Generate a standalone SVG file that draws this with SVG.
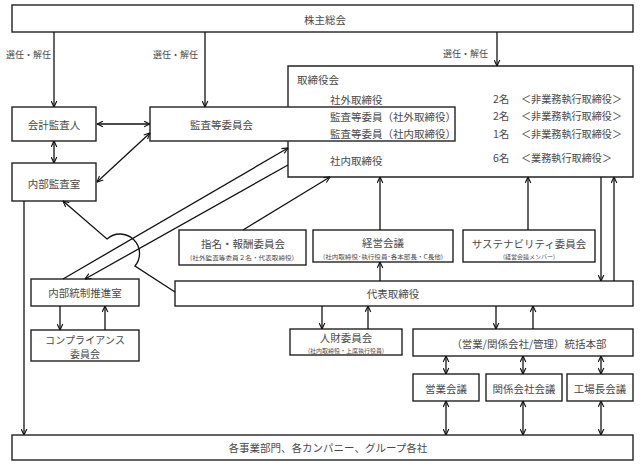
<svg xmlns="http://www.w3.org/2000/svg" width="641" height="465" viewBox="0 0 641 465">
<style>
.b{fill:none;stroke:#222;stroke-width:1.4}
.c{fill:none;stroke:#111;stroke-width:1.3}
.t{font-family:"Noto Sans CJK JP","Noto Sans",sans-serif;font-size:10.5px;fill:#4a4a4a;dominant-baseline:central}
.m{text-anchor:middle}
.s{font-family:"Noto Sans CJK JP","Noto Sans",sans-serif;font-size:6px;fill:#4a4a4a;dominant-baseline:central;text-anchor:middle}
.l{font-family:"Noto Sans CJK JP","Noto Sans",sans-serif;font-size:9px;fill:#4a4a4a;dominant-baseline:central}
</style>
<defs>
<marker id="a" viewBox="0 0 10 10" refX="9.5" refY="5" markerWidth="7" markerHeight="7" orient="auto-start-reverse" markerUnits="userSpaceOnUse">
<path d="M1,1 L9.5,5 L1,9" fill="none" stroke="#111" stroke-width="1.6"/>
</marker>
</defs>
<rect width="641" height="465" fill="#fff"/>

<g id="n-shareholders"><rect class="b" x="12" y="5" width="621" height="27"/><text class="t m" x="325" y="19">株主総会</text></g>
<g id="n-auditor"><rect class="b" x="12" y="107" width="84" height="34"/><text class="t m" x="54" y="124">会計監査人</text></g>
<g id="n-internal-audit"><rect class="b" x="12" y="163" width="84" height="38"/><text class="t m" x="54" y="183">内部監査室</text></g>
<g id="n-board"><path class="b" d="M288,107 L288,66 L633,66 L633,177 L288,177 L288,141"/>
<text class="t" x="297" y="79">取締役会</text>
<text class="t" x="330" y="99">社外取締役</text>
<text class="t" x="330" y="116">監査等委員（社外取締役）</text>
<text class="t" x="330" y="133">監査等委員（社内取締役）</text>
<text class="t" x="330" y="160">社内取締役</text>
<text class="t" x="493" y="98">2名</text><text class="t" x="521" y="98" textLength="101" lengthAdjust="spacingAndGlyphs">＜非業務執行取締役＞</text>
<text class="t" x="493" y="115">2名</text><text class="t" x="521" y="115" textLength="101" lengthAdjust="spacingAndGlyphs">＜非業務執行取締役＞</text>
<text class="t" x="493" y="133">1名</text><text class="t" x="521" y="133" textLength="101" lengthAdjust="spacingAndGlyphs">＜非業務執行取締役＞</text>
<text class="t" x="493" y="157">6名</text><text class="t" x="521" y="157" textLength="91" lengthAdjust="spacingAndGlyphs">＜業務執行取締役＞</text>
</g>
<g id="n-audit-committee"><rect class="b" x="150" y="107" width="305" height="34"/><text class="t" x="190" y="124">監査等委員会</text></g>
<g id="n-nomination"><rect class="b" x="179" y="230" width="127" height="35"/><text class="t m" x="243" y="243">指名・報酬委員会</text><text class="s" x="242" y="257" textLength="104" lengthAdjust="spacingAndGlyphs">(社外監査等委員２名・代表取締役)</text></g>
<g id="n-management"><rect class="b" x="313" y="230" width="140" height="32"/><text class="t m" x="383" y="242">経営会議</text><text class="s" x="383" y="256" textLength="120" lengthAdjust="spacingAndGlyphs">(社内取締役･執行役員･各本部長・C長他)</text></g>
<g id="n-sustainability"><rect class="b" x="463" y="230" width="132" height="32"/><text class="t m" x="529" y="243">サステナビリティ委員会</text><text class="s" x="529" y="256">(経営会議メンバー)</text></g>
<g id="n-representative"><rect class="b" x="175" y="281" width="458" height="25"/><text class="t m" x="393" y="293">代表取締役</text></g>
<g id="n-internal-control"><rect class="b" x="31" y="279" width="108" height="27"/><text class="t m" x="85" y="292">内部統制推進室</text></g>
<g id="n-compliance"><rect class="b" x="31" y="330" width="108" height="31"/><text class="t m" x="85" y="339" style="font-size:10px" textLength="80" lengthAdjust="spacing">コンプライアンス</text><text class="t m" x="85" y="353" style="font-size:10px">委員会</text></g>
<g id="n-hr"><rect class="b" x="290" y="329" width="112" height="26"/><text class="t m" x="346" y="337">人財委員会</text><text class="s" x="346" y="350">(社内取締役・上席執行役員)</text></g>
<g id="n-hq"><rect class="b" x="413" y="329" width="220" height="27"/><text class="t m" x="529" y="343">（営業/関係会社/管理）統括本部</text></g>
<g id="n-sales"><rect class="b" x="413" y="374" width="66" height="27"/><text class="t m" x="446" y="388">営業会議</text></g>
<g id="n-affiliates"><rect class="b" x="486" y="374" width="76" height="27"/><text class="t m" x="524" y="388">関係会社会議</text></g>
<g id="n-plant"><rect class="b" x="567" y="374" width="66" height="27"/><text class="t m" x="600" y="388">工場長会議</text></g>
<g id="n-divisions"><rect class="b" x="12" y="435" width="621" height="25"/><text class="t m" x="328" y="447">各事業部門、各カンパニー、グループ各社</text></g>

<g id="connectors" marker-end="url(#a)">
<path class="c" d="M54,32 V107"/>
<path class="c" d="M205,32 V107"/>
<path class="c" d="M497,32 V66"/>
<path class="c" d="M97,124 H150" marker-start="url(#a)"/>
<path class="c" d="M54,141 V163" marker-start="url(#a)"/>
<path class="c" d="M97,182 L150,133" marker-start="url(#a)"/>
<path class="c" d="M24,201 V435"/>
<path class="c" d="M63,279 L288,148"/>
<path class="c" d="M288,165 L85,279"/>
<path class="c" d="M243,230 L330,177"/>
<path class="c" d="M380,230 V177"/>
<path class="c" d="M380,281 V262"/>
<path class="c" d="M528,230 V177"/>
<path class="c" d="M601,177 V281"/>
<path class="c" d="M614,281 V177"/>
<path class="c" d="M175,292 L135,266 A19.5,19.5 0 0 0 107,239 L63,201"/>
<path class="c" d="M60,306 V330"/>
<path class="c" d="M105,330 V306"/>
<path class="c" d="M322,306 V329"/>
<path class="c" d="M368,329 V306"/>
<path class="c" d="M496,306 V329"/>
<path class="c" d="M533,329 V306"/>
<path class="c" d="M446,356 V374" marker-start="url(#a)"/>
<path class="c" d="M523,356 V374" marker-start="url(#a)"/>
<path class="c" d="M601,356 V374" marker-start="url(#a)"/>
<path class="c" d="M446,401 V435" marker-start="url(#a)"/>
<path class="c" d="M523,401 V435" marker-start="url(#a)"/>
<path class="c" d="M601,401 V435" marker-start="url(#a)"/>
</g>
<g id="labels">
<text class="l" x="6" y="54">選任・解任</text>
<text class="l" x="153" y="54">選任・解任</text>
<text class="l" x="443" y="53">選任・解任</text>
</g>
</svg>
